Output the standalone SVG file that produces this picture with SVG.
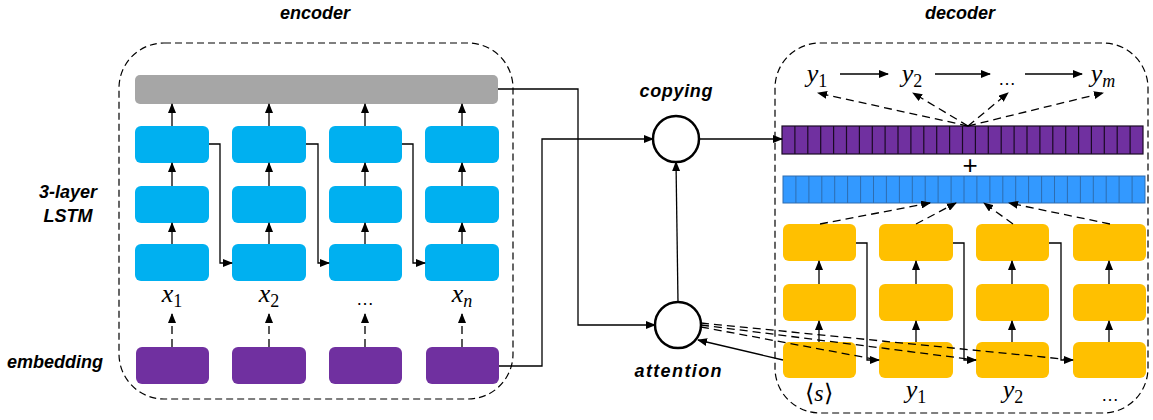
<svg xmlns="http://www.w3.org/2000/svg" width="1153" height="420" viewBox="0 0 1153 420">
<style>
.lbl{font-family:"Liberation Sans",Arial,sans-serif;font-weight:bold;font-style:italic;font-size:18px;fill:#000;text-anchor:middle}
.math{font-family:"Liberation Serif","Times New Roman",serif;font-style:italic;font-size:26px;fill:#000;text-anchor:middle}
.sub{font-style:normal;font-size:18px}
.isub{font-style:italic;font-size:18px}
.dots{font-family:"Liberation Sans",Arial,sans-serif;font-size:18px;fill:#000;text-anchor:middle}
.frame{fill:none;stroke:#000;stroke-width:1.2;stroke-dasharray:7 4}
.blue{fill:#00B0F0}
.purple{fill:#7030A0}
.yellow{fill:#FFC000}
.grey{fill:#A6A6A6}
.ln{fill:none;stroke:#000;stroke-width:1.3}
.dln{fill:none;stroke:#000;stroke-width:1.3;stroke-dasharray:8 5}
.circ{fill:#fff;stroke:#000;stroke-width:2.5}
.pcell{fill:#7030A0;stroke:#1a0a24;stroke-width:1.2}
.bcell{fill:#3399FF;stroke:#2E6DB0;stroke-width:1}
</style>
<defs>
<marker id="ah" markerUnits="userSpaceOnUse" markerWidth="10" markerHeight="8" refX="9" refY="4" orient="auto">
<path d="M0,0 L10,4 L0,8 Z" fill="#000"/>
</marker>
</defs>

<!-- titles -->
<text class="lbl" x="315" y="19" font-size="19">encoder</text>
<text class="lbl" x="960" y="19" font-size="19">decoder</text>
<text class="lbl" x="68" y="198">3-layer</text>
<text class="lbl" x="68" y="222">LSTM</text>
<text class="lbl" x="55" y="368">embedding</text>
<text class="lbl" x="676" y="97" textLength="73">copying</text>
<text class="lbl" x="678" y="377" textLength="87">attention</text>

<!-- frames -->
<rect class="frame" x="119" y="43" width="394" height="356" rx="45"/>
<rect class="frame" x="775" y="43" width="373" height="370" rx="45"/>

<!-- encoder -->
<g id="enc-grey"><rect class="grey" x="135" y="75" width="363" height="29" rx="5"/></g>
<g id="enc-col1">
<rect class="blue" x="135" y="126" width="74" height="37" rx="6"/>
<rect class="blue" x="135" y="186" width="74" height="37" rx="6"/>
<rect class="blue" x="135" y="244" width="74" height="37" rx="6"/>
<rect class="purple" x="136" y="347" width="73" height="37" rx="6"/>
<text class="math" x="172" y="302">x<tspan class="sub" dy="5">1</tspan></text>
</g>
<g id="enc-col2">
<rect class="blue" x="232" y="126" width="74" height="37" rx="6"/>
<rect class="blue" x="232" y="186" width="74" height="37" rx="6"/>
<rect class="blue" x="232" y="244" width="74" height="37" rx="6"/>
<rect class="purple" x="232" y="347" width="74" height="37" rx="6"/>
<text class="math" x="269" y="302">x<tspan class="sub" dy="5">2</tspan></text>
</g>
<g id="enc-col3">
<rect class="blue" x="329" y="126" width="73" height="37" rx="6"/>
<rect class="blue" x="329" y="186" width="73" height="37" rx="6"/>
<rect class="blue" x="329" y="244" width="73" height="37" rx="6"/>
<rect class="purple" x="329" y="347" width="73" height="37" rx="6"/>
<text class="dots" x="365" y="305">…</text>
</g>
<g id="enc-col4">
<rect class="blue" x="425" y="126" width="74" height="37" rx="6"/>
<rect class="blue" x="425" y="186" width="74" height="37" rx="6"/>
<rect class="blue" x="425" y="244" width="74" height="37" rx="6"/>
<rect class="purple" x="426" y="347" width="73" height="37" rx="6"/>
<text class="math" x="462" y="302">x<tspan class="isub" dy="5">n</tspan></text>
</g>

<!-- circles -->
<g id="copying"><circle class="circ" cx="676" cy="139" r="23"/></g>
<g id="attention"><circle class="circ" cx="678" cy="325" r="23"/></g>

<!-- decoder bars -->
<g id="dec-purple-bar">
<rect class="pcell" x="782" y="126" width="361" height="28"/>
<path fill="none" stroke="#1a0a24" stroke-width="1.2" d="M794.9,126V154M807.8,126V154M820.7,126V154M833.6,126V154M846.5,126V154M859.4,126V154M872.3,126V154M885.1,126V154M898,126V154M910.9,126V154M923.8,126V154M936.7,126V154M949.6,126V154M962.5,126V154M975.4,126V154M988.3,126V154M1001.2,126V154M1014.1,126V154M1027,126V154M1039.9,126V154M1052.8,126V154M1065.7,126V154M1078.6,126V154M1091.4,126V154M1104.3,126V154M1117.2,126V154M1130.1,126V154"/>
</g>
<text x="970" y="174" font-family="Liberation Sans,Arial,sans-serif" font-size="26" text-anchor="middle">+</text>
<g id="dec-blue-bar">
<rect class="bcell" x="783" y="176" width="362" height="27"/>
<path fill="none" stroke="#2E6DB0" stroke-width="1" d="M795.9,176V203M808.9,176V203M821.8,176V203M834.7,176V203M847.6,176V203M860.6,176V203M873.5,176V203M886.4,176V203M899.4,176V203M912.3,176V203M925.2,176V203M938.1,176V203M951.1,176V203M964,176V203M976.9,176V203M989.9,176V203M1002.8,176V203M1015.7,176V203M1028.6,176V203M1041.6,176V203M1054.5,176V203M1067.4,176V203M1080.4,176V203M1093.3,176V203M1106.2,176V203M1119.1,176V203M1132.1,176V203"/>
</g>

<!-- decoder outputs -->
<g id="dec-out">
<text class="math" x="817" y="82">y<tspan class="sub" dy="5">1</tspan></text>
<text class="math" x="912" y="82">y<tspan class="sub" dy="5">2</tspan></text>
<text class="dots" x="1007" y="85">…</text>
<text class="math" x="1103" y="82">y<tspan class="isub" dy="5">m</tspan></text>
</g>

<!-- decoder columns -->
<g id="dec-col1">
<rect class="yellow" x="783" y="224" width="73" height="37" rx="6"/>
<rect class="yellow" x="783" y="284" width="73" height="37" rx="6"/>
<rect class="yellow" x="783" y="342" width="73" height="36" rx="6"/>
<text x="819" y="401" font-family="Liberation Serif,serif" font-size="24" text-anchor="middle">⟨<tspan font-style="italic">s</tspan>⟩</text>
</g>
<g id="dec-col2">
<rect class="yellow" x="879" y="224" width="74" height="37" rx="6"/>
<rect class="yellow" x="879" y="284" width="74" height="37" rx="6"/>
<rect class="yellow" x="879" y="342" width="74" height="36" rx="6"/>
<text class="math" x="916" y="398">y<tspan class="sub" dy="5">1</tspan></text>
</g>
<g id="dec-col3">
<rect class="yellow" x="976" y="224" width="73" height="37" rx="6"/>
<rect class="yellow" x="976" y="284" width="73" height="37" rx="6"/>
<rect class="yellow" x="976" y="342" width="73" height="36" rx="6"/>
<text class="math" x="1013" y="398">y<tspan class="sub" dy="5">2</tspan></text>
</g>
<g id="dec-col4">
<rect class="yellow" x="1073" y="224" width="73" height="37" rx="6"/>
<rect class="yellow" x="1073" y="284" width="73" height="37" rx="6"/>
<rect class="yellow" x="1073" y="342" width="73" height="36" rx="6"/>
<text class="dots" x="1110" y="401">…</text>
</g>

<!-- connectors -->
<g id="connectors">
<!-- encoder vertical -->
<path class="ln" marker-end="url(#ah)" d="M172,244V223"/>
<path class="ln" marker-end="url(#ah)" d="M172,186V163"/>
<path class="ln" marker-end="url(#ah)" d="M172,126V104"/>
<path class="ln" marker-end="url(#ah)" d="M269,244V223"/>
<path class="ln" marker-end="url(#ah)" d="M269,186V163"/>
<path class="ln" marker-end="url(#ah)" d="M269,126V104"/>
<path class="ln" marker-end="url(#ah)" d="M365,244V223"/>
<path class="ln" marker-end="url(#ah)" d="M365,186V163"/>
<path class="ln" marker-end="url(#ah)" d="M365,126V104"/>
<path class="ln" marker-end="url(#ah)" d="M462,244V223"/>
<path class="ln" marker-end="url(#ah)" d="M462,186V163"/>
<path class="ln" marker-end="url(#ah)" d="M462,126V104"/>
<path class="dln" marker-end="url(#ah)" d="M172,347V314"/>
<path class="dln" marker-end="url(#ah)" d="M269,347V314"/>
<path class="dln" marker-end="url(#ah)" d="M365,347V314"/>
<path class="dln" marker-end="url(#ah)" d="M462,347V314"/>
<!-- encoder recurrent -->
<path class="ln" marker-end="url(#ah)" d="M209,144H220V263H232"/>
<path class="ln" marker-end="url(#ah)" d="M306,144H318V263H329"/>
<path class="ln" marker-end="url(#ah)" d="M402,144H413V263H425"/>
<!-- to circles -->
<path class="ln" marker-end="url(#ah)" d="M498,89H578V325H655"/>
<path class="ln" marker-end="url(#ah)" d="M499,366H542V139H653"/>
<path class="ln" marker-end="url(#ah)" d="M678,302L676,162"/>
<path class="ln" marker-end="url(#ah)" d="M699,139H782"/>
<path class="ln" marker-end="url(#ah)" d="M783,360L698,340"/>
<!-- attention dashed -->
<path class="dln" d="M701,323L1073,360"/>
<path class="dln" d="M701,325L976,360"/>
<path class="dln" d="M701,327L879,360"/>
<!-- top output arrows -->
<path class="ln" marker-end="url(#ah)" d="M840,74H888"/>
<path class="ln" marker-end="url(#ah)" d="M935,74H990"/>
<path class="ln" marker-end="url(#ah)" d="M1025,74H1082"/>
<path class="dln" marker-end="url(#ah)" d="M968,126L818,93"/>
<path class="dln" marker-end="url(#ah)" d="M968,126L913,93"/>
<path class="dln" marker-end="url(#ah)" d="M968,126L1008,93"/>
<path class="dln" marker-end="url(#ah)" d="M968,126L1103,93"/>
<!-- yellow to blue bar -->
<path class="dln" marker-end="url(#ah)" d="M820,224L930,203"/>
<path class="dln" marker-end="url(#ah)" d="M916,224L956,203"/>
<path class="dln" marker-end="url(#ah)" d="M1013,224L984,203"/>
<path class="dln" marker-end="url(#ah)" d="M1110,224L1009,203"/>
<!-- decoder vertical -->
<path class="ln" marker-end="url(#ah)" d="M819,342V321"/>
<path class="ln" marker-end="url(#ah)" d="M819,284V261"/>
<path class="ln" marker-end="url(#ah)" d="M916,342V321"/>
<path class="ln" marker-end="url(#ah)" d="M916,284V261"/>
<path class="ln" marker-end="url(#ah)" d="M1012,342V321"/>
<path class="ln" marker-end="url(#ah)" d="M1012,284V261"/>
<path class="ln" marker-end="url(#ah)" d="M1109,342V321"/>
<path class="ln" marker-end="url(#ah)" d="M1109,284V261"/>
<!-- decoder recurrent -->
<path class="ln" marker-end="url(#ah)" d="M856,243H867V360H879"/>
<path class="ln" marker-end="url(#ah)" d="M953,243H964V360H976"/>
<path class="ln" marker-end="url(#ah)" d="M1049,243H1061V360H1073"/>
</g>
</svg>
